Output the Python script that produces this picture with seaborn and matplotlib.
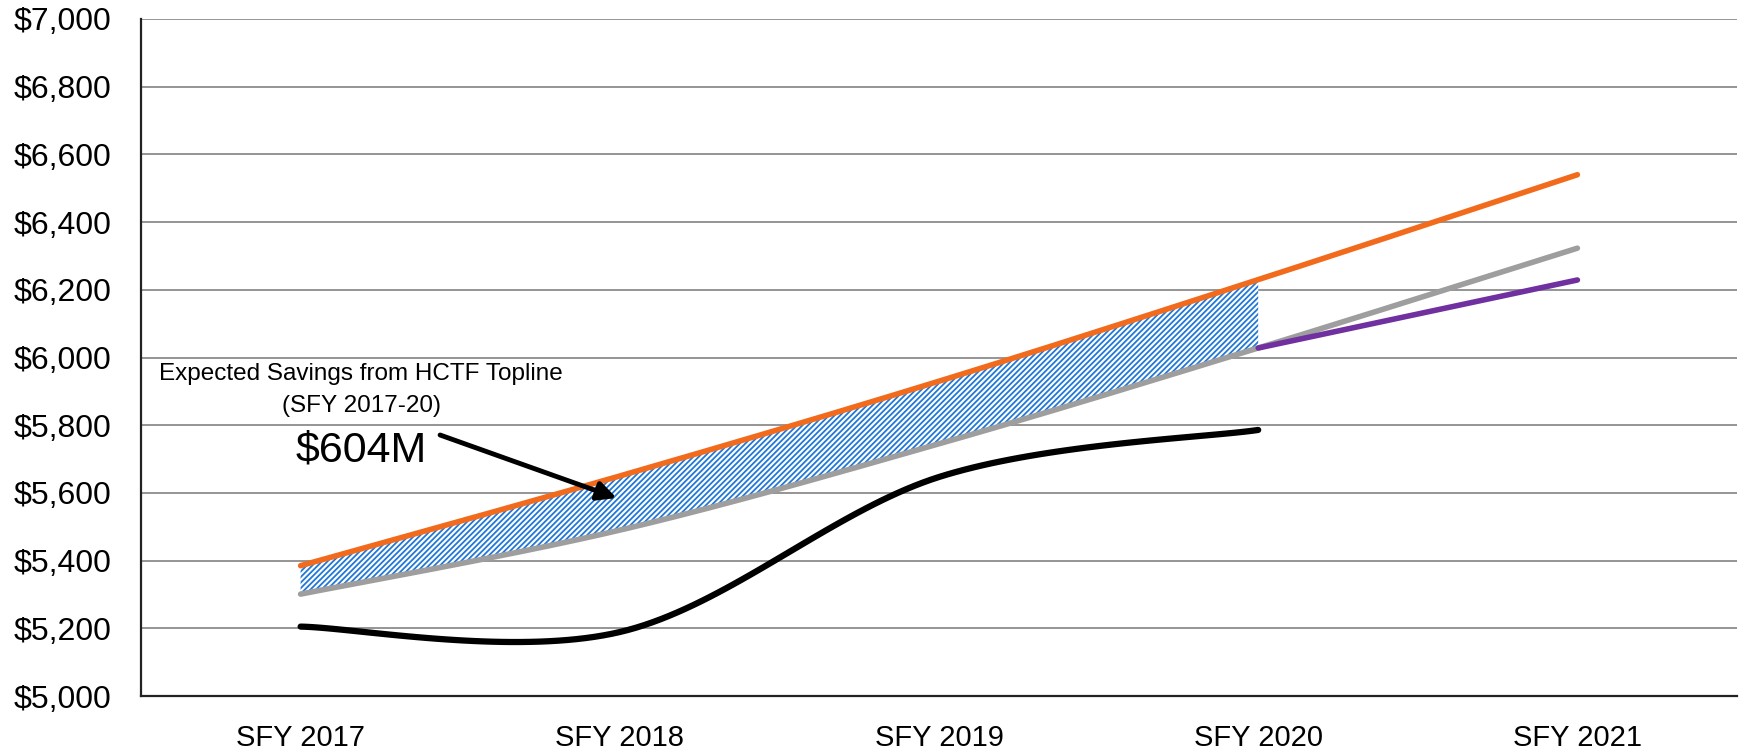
import numpy as np
import pandas as pd
import matplotlib
matplotlib.use("Agg")
import matplotlib.pyplot as plt
import seaborn as sns

# ---- data ----
years = ["SFY 2017", "SFY 2018", "SFY 2019", "SFY 2020", "SFY 2021"]
orange_vals = [5385, 5650, 5930, 6230, 6540]        # HCTF topline
gray_vals = [5301, 5490, 5745, 6028, 6323]          # trend
purple_vals = [None, None, None, 6028, 6229]        # projection
black_vals = [5205, 5189, 5647, 5786, None]         # actual
y_ticks = [5000, 5200, 5400, 5600, 5800, 6000, 6200, 6400, 6600, 6800, 7000]

ORANGE = "#F26B1D"
GRAY = "#9E9E9E"
PURPLE = "#7030A0"
BLUE = "#2278D6"

sns.set_style("white")
plt.rcParams['font.family'] = ['Liberation Sans', 'DejaVu Sans']
plt.rcParams['hatch.linewidth'] = 1.3
plt.rcParams['hatch.color'] = BLUE

fig = plt.figure(figsize=(17.4, 7.5), dpi=100)
ax = fig.add_axes([141/1740, 1-696/750, (1737-141)/1740, (696-19)/750])

x = np.arange(len(years))

def smooth(xs, ys, n=40):
    # Catmull-Rom style smoothing like Excel's "smoothed line"
    xs = np.asarray(xs, float); ys = np.asarray(ys, float)
    px = np.concatenate([[xs[0]], xs, [xs[-1]]])
    py = np.concatenate([[ys[0]], ys, [ys[-1]]])
    ox, oy = [], []
    for i in range(1, len(xs)):
        p0, p1, p2, p3 = (np.array([px[j], py[j]]) for j in (i-1, i, i+1, i+2))
        c1 = p1 + (p2 - p0) / 6
        c2 = p2 - (p3 - p1) / 6
        t = np.linspace(0, 1, n)[:, None]
        pts = ((1-t)**3)*p1 + 3*((1-t)**2)*t*c1 + 3*(1-t)*t**2*c2 + t**3*p2
        ox.extend(pts[:, 0]); oy.extend(pts[:, 1])
    return np.array(ox), np.array(oy)

gx, gy = smooth(x, gray_vals)
ox_, oy_ = smooth(x, orange_vals)
bx, by = smooth(x[:4], black_vals[:4])

# hatched savings area (SFY 2017-20)
m = gx <= 3.0 + 1e-9
ax.fill_between(gx[m], gy[m], np.interp(gx[m], ox_, oy_), facecolor="white",
                hatch="//////", edgecolor=BLUE, linewidth=0, zorder=2)

df_o = pd.DataFrame({"x": ox_, "y": oy_})
df_g = pd.DataFrame({"x": gx, "y": gy})
df_p = pd.DataFrame({"x": x[3:], "y": purple_vals[3:]})
df_b = pd.DataFrame({"x": bx, "y": by})

sns.lineplot(data=df_g, x="x", y="y", color=GRAY, lw=4, ax=ax, zorder=3,
             solid_capstyle="round", sort=False)
sns.lineplot(data=df_o, x="x", y="y", color=ORANGE, lw=4, ax=ax, zorder=4,
             solid_capstyle="round", sort=False)
sns.lineplot(data=df_p, x="x", y="y", color=PURPLE, lw=4, ax=ax, zorder=4,
             solid_capstyle="round")
sns.lineplot(data=df_b, x="x", y="y", color="black", lw=4.5, ax=ax, zorder=4,
             solid_capstyle="round", sort=False)

ax.set_xlim(-0.5, 4.5)
ax.set_ylim(5000, 7000)
ax.set_yticks(y_ticks)
ax.set_yticklabels([f"${v:,}" for v in y_ticks])
ax.set_xticks(x)
ax.set_xticklabels(years)
ax.set_xlabel("")
ax.set_ylabel("")
ax.grid(axis="y", color="#8C8C8C", lw=1.3)
ax.set_axisbelow(True)
for s in ["top", "right"]:
    ax.spines[s].set_visible(False)
for s in ["left", "bottom"]:
    ax.spines[s].set_color("#222222")
    ax.spines[s].set_linewidth(1.6)
ax.tick_params(axis="y", length=0, pad=21, labelsize=23, colors="black")
ax.tick_params(axis="x", length=0, pad=20, labelsize=21, colors="black")

ax.text(0.19, 5951, "Expected Savings from HCTF Topline", ha="center", va="center",
        fontsize=17.5, color="black")
ax.text(0.19, 5858, "(SFY 2017-20)", ha="center", va="center",
        fontsize=17.5, color="black")
ax.annotate("", xy=(0.99, 5585), xytext=(0.437, 5771),
            arrowprops=dict(arrowstyle="-|>", color="black", lw=3.5,
                            mutation_scale=28, shrinkA=0, shrinkB=0), zorder=6)
ax.text(0.19, 5725, "$604M", ha="center", va="center", fontsize=31, color="black")

fig.savefig("out.png", dpi=100)
